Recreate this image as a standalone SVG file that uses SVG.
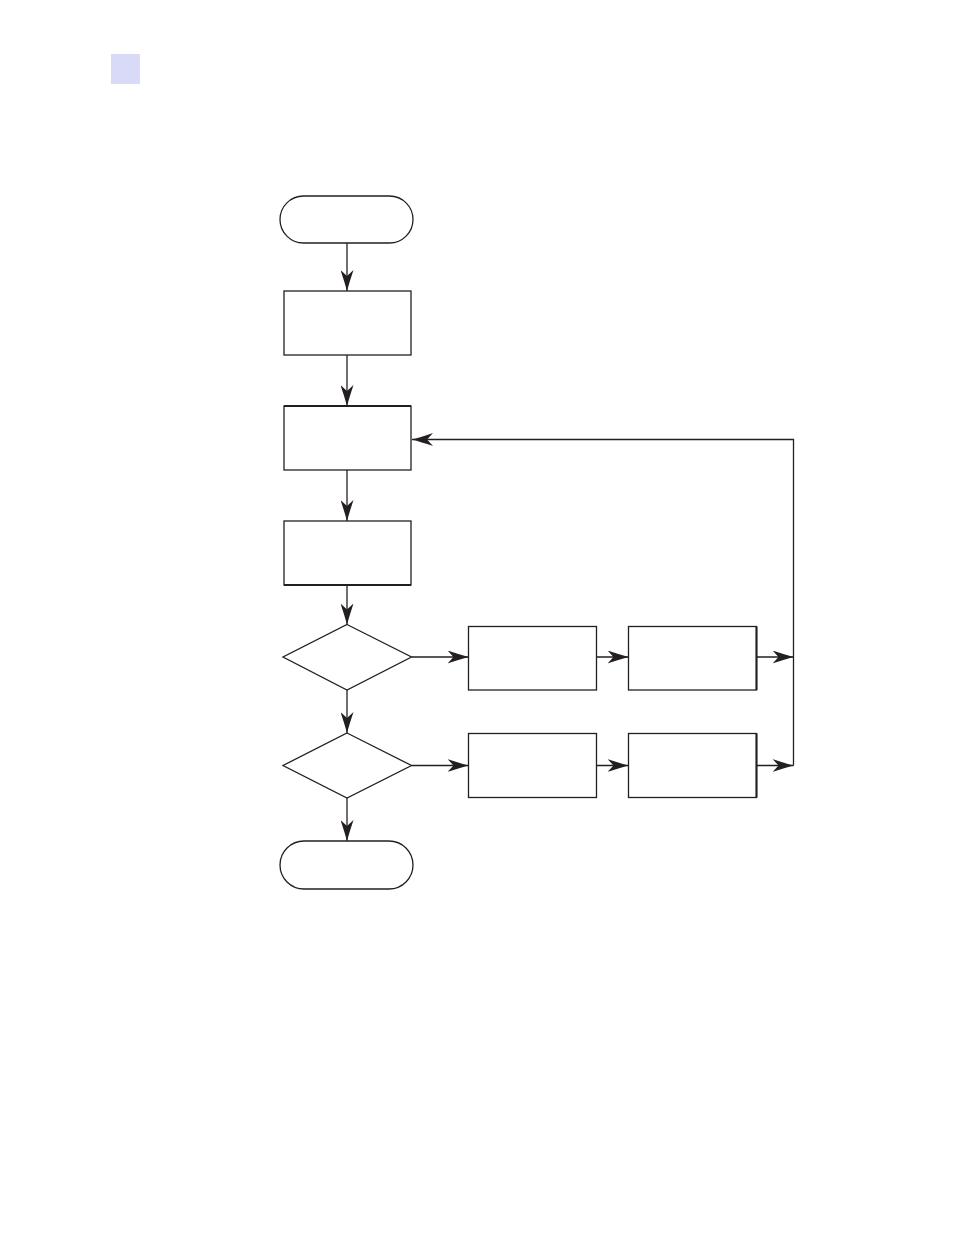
<svg xmlns="http://www.w3.org/2000/svg" width="954" height="1235" viewBox="0 0 954 1235">
<style>
.s{fill:#fff;stroke:#231f20;stroke-width:1.3}
.c{fill:none;stroke:#231f20;stroke-width:1.3}
</style>
<defs>
<marker id="a" viewBox="0 0 21 13" refX="21" refY="6.5" markerWidth="21" markerHeight="13" markerUnits="userSpaceOnUse" orient="auto">
<path d="M0,0 Q12,4 21,6.5 Q12,9 0,13 L6,6.5 Z" fill="#231f20"/>
</marker>
</defs>
<rect x="111" y="54" width="29" height="30" fill="#d9d9f8"/>
<g id="start"><rect class="s" x="280" y="196" width="133" height="47" rx="23.5"/></g>
<g id="box1"><rect class="s" x="284" y="291" width="127" height="64"/></g>
<g id="box2"><rect class="s" x="284" y="406" width="127" height="64"/><line x1="284" y1="406" x2="411" y2="406" stroke="#231f20" stroke-width="2"/></g>
<g id="box3"><rect class="s" x="284" y="521" width="127" height="64"/><line x1="284" y1="585" x2="411" y2="585" stroke="#231f20" stroke-width="2"/></g>
<g id="dec1"><polygon class="s" points="347,624.5 411.5,657 347,690 283,657"/></g>
<g id="box4"><rect class="s" x="468.5" y="626.5" width="128" height="63.5"/></g>
<g id="box5"><rect class="s" x="628.5" y="626.5" width="128" height="63.5"/><line x1="756.5" y1="626.5" x2="756.5" y2="690" stroke="#231f20" stroke-width="2"/></g>
<g id="dec2"><polygon class="s" points="347,733 411.5,765.5 347,798 283,765.5"/></g>
<g id="box6"><rect class="s" x="468.5" y="733.5" width="128" height="64"/></g>
<g id="box7"><rect class="s" x="628.5" y="733.5" width="128" height="64"/><line x1="756.5" y1="733.5" x2="756.5" y2="797.5" stroke="#231f20" stroke-width="2"/></g>
<g id="end"><rect class="s" x="280" y="841" width="133" height="48" rx="24"/></g>
<g id="connectors">
<line class="c" x1="347" y1="243" x2="347" y2="291" marker-end="url(#a)"/>
<line class="c" x1="347" y1="355" x2="347" y2="406" marker-end="url(#a)"/>
<line class="c" x1="347" y1="470" x2="347" y2="521" marker-end="url(#a)"/>
<line class="c" x1="347" y1="585" x2="347" y2="624.5" marker-end="url(#a)"/>
<line class="c" x1="347" y1="690" x2="347" y2="733" marker-end="url(#a)"/>
<line class="c" x1="347" y1="798" x2="347" y2="841" marker-end="url(#a)"/>
<line class="c" x1="411.5" y1="657" x2="468.5" y2="657" marker-end="url(#a)"/>
<line class="c" x1="411.5" y1="765.5" x2="468.5" y2="765.5" marker-end="url(#a)"/>
<line class="c" x1="596.5" y1="657" x2="628.5" y2="657" marker-end="url(#a)"/>
<line class="c" x1="596.5" y1="765.5" x2="628.5" y2="765.5" marker-end="url(#a)"/>
<line class="c" x1="756.5" y1="657" x2="793.5" y2="657" marker-end="url(#a)"/>
<line class="c" x1="756.5" y1="765.5" x2="793.5" y2="765.5" marker-end="url(#a)"/>
<polyline class="c" points="793.5,765.5 793.5,439.5 412,439.5" marker-end="url(#a)"/>
</g>
</svg>
